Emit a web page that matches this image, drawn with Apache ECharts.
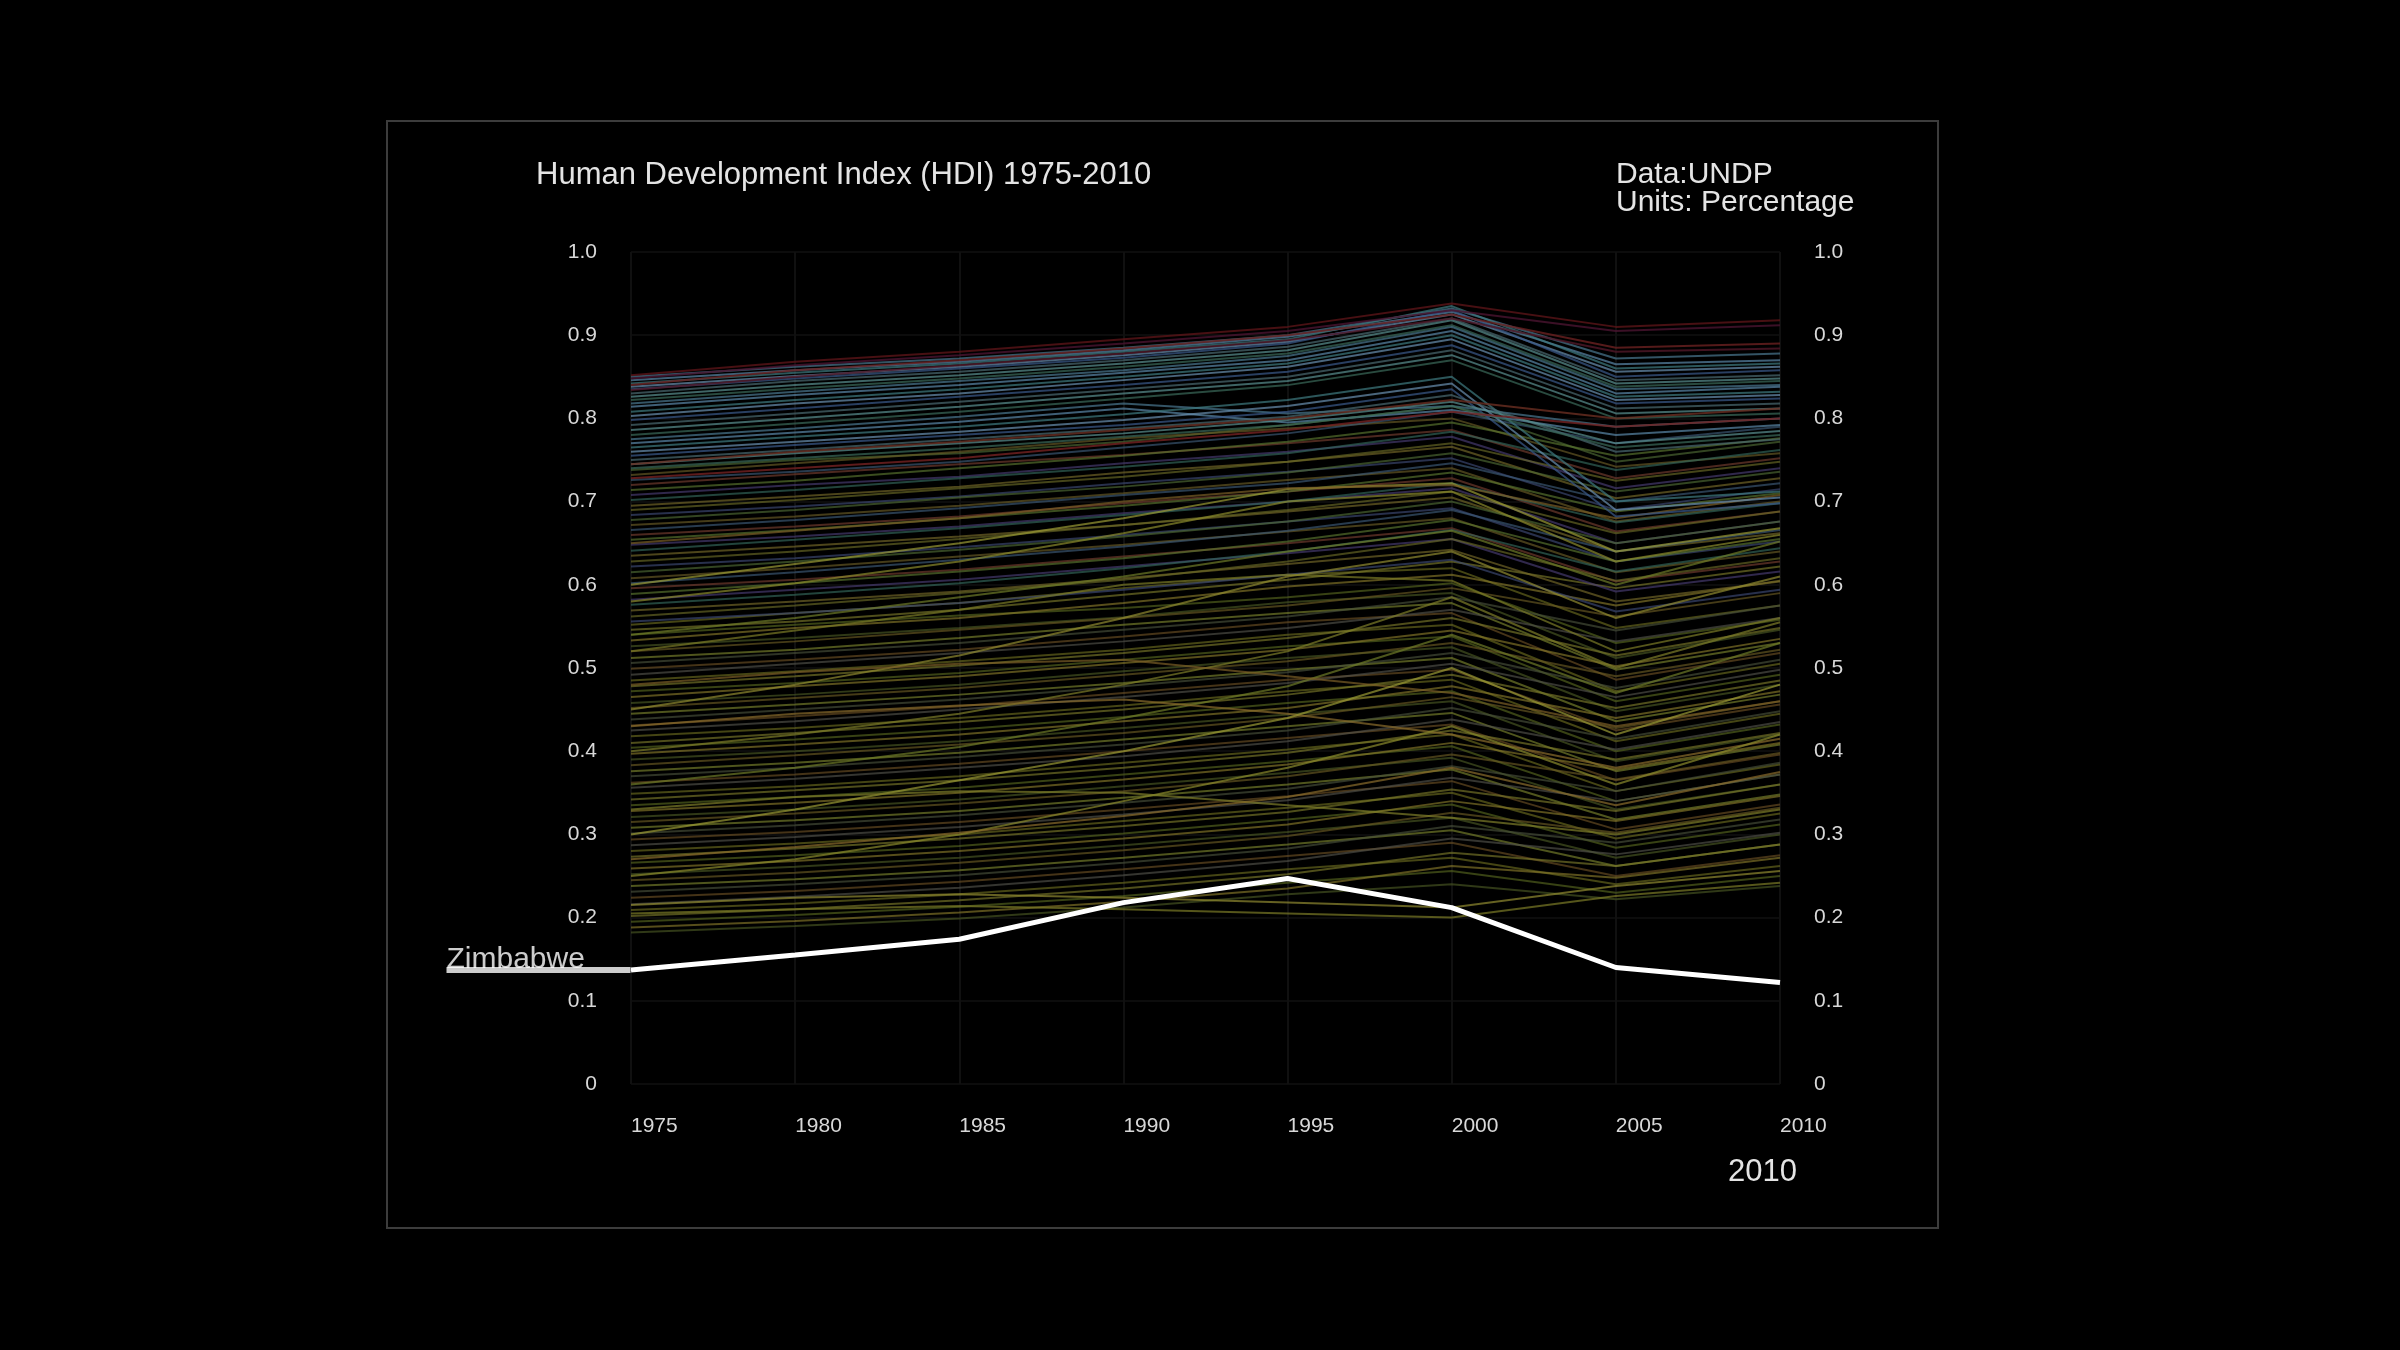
<!DOCTYPE html>
<html>
<head>
<meta charset="utf-8">
<script src="https://cdn.jsdelivr.net/npm/echarts@6/dist/echarts.min.js"></script>
<style>
html,body{margin:0;padding:0;background:#000;}
#chart{width:2400px;height:1350px;}
</style>
</head>
<body>
<div id="chart"></div>
<script>
const years = ['1975','1980','1985','1990','1995','2000','2005','2010'];

const zimbabwe = [0.137,0.155,0.174,0.218,0.247,0.212,0.140,0.122];

const hdiTopRed = [
  [0.852,0.868,0.880,0.895,0.910,0.938,0.910,0.918],
  [0.848,0.864,0.876,0.890,0.905,0.930,0.905,0.912],
  [0.840,0.858,0.870,0.884,0.900,0.925,0.885,0.890],
  [0.834,0.850,0.864,0.878,0.894,0.920,0.880,0.884],
  [0.745,0.760,0.772,0.786,0.800,0.822,0.800,0.812],
  [0.728,0.740,0.752,0.770,0.786,0.808,0.790,0.800]
];

const hdiHighBand = [
  [0.850,0.862,0.872,0.885,0.900,0.932,0.872,0.878],
  [0.846,0.858,0.868,0.882,0.898,0.928,0.865,0.870],
  [0.842,0.855,0.866,0.880,0.895,0.935,0.860,0.866],
  [0.838,0.851,0.862,0.876,0.892,0.925,0.856,0.862],
  [0.835,0.848,0.860,0.873,0.890,0.930,0.850,0.858],
  [0.830,0.845,0.856,0.870,0.886,0.920,0.846,0.852],
  [0.826,0.840,0.852,0.866,0.882,0.918,0.842,0.848],
  [0.822,0.836,0.848,0.862,0.878,0.912,0.838,0.845],
  [0.818,0.832,0.845,0.858,0.875,0.910,0.835,0.840],
  [0.814,0.828,0.840,0.855,0.870,0.905,0.830,0.838],
  [0.808,0.822,0.835,0.850,0.866,0.900,0.826,0.832],
  [0.803,0.818,0.830,0.846,0.862,0.895,0.822,0.828],
  [0.798,0.812,0.826,0.840,0.856,0.888,0.818,0.824],
  [0.792,0.806,0.820,0.835,0.850,0.882,0.812,0.818],
  [0.786,0.800,0.814,0.830,0.845,0.876,0.806,0.812],
  [0.780,0.794,0.808,0.824,0.840,0.870,0.800,0.806],
  [0.775,0.788,0.802,0.818,0.806,0.815,0.790,0.800],
  [0.770,0.783,0.796,0.812,0.795,0.810,0.780,0.792],
  [0.765,0.778,0.790,0.805,0.822,0.850,0.700,0.712],
  [0.760,0.772,0.784,0.798,0.815,0.842,0.690,0.705],
  [0.755,0.768,0.780,0.792,0.808,0.835,0.682,0.698],
  [0.750,0.762,0.775,0.788,0.802,0.828,0.760,0.775],
  [0.745,0.758,0.770,0.782,0.798,0.820,0.770,0.785],
  [0.740,0.752,0.764,0.778,0.792,0.815,0.765,0.780]
];

const hdiMiddle = [
  [0.738,0.750,0.758,0.772,0.792,0.815,0.748,0.772],
  [0.732,0.746,0.760,0.776,0.788,0.800,0.742,0.758],
  [0.726,0.736,0.748,0.765,0.782,0.808,0.770,0.790],
  [0.720,0.733,0.745,0.756,0.770,0.786,0.728,0.752],
  [0.714,0.725,0.740,0.755,0.772,0.795,0.755,0.776],
  [0.708,0.720,0.730,0.746,0.760,0.778,0.716,0.740],
  [0.702,0.714,0.728,0.742,0.758,0.784,0.738,0.762],
  [0.695,0.706,0.718,0.735,0.748,0.766,0.704,0.728],
  [0.690,0.702,0.716,0.730,0.748,0.770,0.725,0.748],
  [0.684,0.694,0.706,0.722,0.736,0.752,0.690,0.715],
  [0.678,0.690,0.705,0.718,0.735,0.758,0.712,0.736],
  [0.672,0.682,0.695,0.710,0.726,0.740,0.676,0.700],
  [0.666,0.678,0.692,0.708,0.722,0.746,0.700,0.722],
  [0.660,0.670,0.682,0.698,0.712,0.728,0.664,0.688],
  [0.654,0.666,0.680,0.695,0.712,0.735,0.688,0.710],
  [0.648,0.658,0.670,0.686,0.700,0.716,0.650,0.676],
  [0.641,0.654,0.668,0.684,0.700,0.722,0.675,0.698],
  [0.635,0.646,0.658,0.672,0.688,0.705,0.640,0.662],
  [0.628,0.640,0.655,0.672,0.690,0.712,0.662,0.688],
  [0.622,0.632,0.645,0.660,0.676,0.692,0.628,0.652],
  [0.615,0.628,0.642,0.658,0.676,0.700,0.650,0.676],
  [0.608,0.620,0.634,0.648,0.664,0.680,0.615,0.640],
  [0.602,0.615,0.630,0.646,0.665,0.690,0.640,0.666],
  [0.596,0.606,0.618,0.634,0.650,0.668,0.604,0.628],
  [0.589,0.602,0.616,0.632,0.652,0.678,0.628,0.655],
  [0.582,0.594,0.606,0.622,0.638,0.655,0.592,0.616],
  [0.576,0.588,0.602,0.620,0.640,0.666,0.616,0.644],
  [0.569,0.580,0.592,0.608,0.625,0.642,0.580,0.604],
  [0.562,0.575,0.590,0.606,0.628,0.655,0.605,0.632],
  [0.556,0.566,0.578,0.594,0.612,0.630,0.568,0.594]
];

const hdiCrossing = [
  [0.600,0.625,0.650,0.680,0.715,0.722,0.640,0.668],
  [0.580,0.602,0.628,0.662,0.700,0.712,0.628,0.660],
  [0.520,0.545,0.570,0.600,0.612,0.605,0.520,0.560],
  [0.450,0.480,0.515,0.560,0.610,0.640,0.560,0.610],
  [0.400,0.420,0.445,0.480,0.520,0.585,0.500,0.555],
  [0.360,0.380,0.405,0.440,0.478,0.540,0.470,0.530],
  [0.480,0.495,0.505,0.510,0.490,0.470,0.430,0.460],
  [0.430,0.445,0.455,0.462,0.445,0.420,0.380,0.415],
  [0.300,0.330,0.365,0.400,0.440,0.500,0.420,0.480],
  [0.250,0.270,0.300,0.340,0.380,0.430,0.360,0.420],
  [0.205,0.210,0.214,0.210,0.205,0.200,0.226,0.242],
  [0.215,0.224,0.228,0.224,0.218,0.212,0.238,0.256],
  [0.330,0.345,0.352,0.350,0.335,0.320,0.300,0.330],
  [0.540,0.560,0.585,0.610,0.640,0.665,0.600,0.652],
  [0.650,0.665,0.680,0.700,0.716,0.720,0.680,0.708],
  [0.270,0.285,0.302,0.322,0.345,0.380,0.335,0.375]
];

const hdiLower = [
  [0.552,0.566,0.578,0.596,0.612,0.620,0.548,0.575],
  [0.546,0.556,0.570,0.588,0.606,0.628,0.596,0.622],
  [0.540,0.552,0.563,0.572,0.585,0.602,0.530,0.558],
  [0.533,0.548,0.560,0.578,0.598,0.612,0.575,0.605],
  [0.526,0.536,0.548,0.561,0.579,0.590,0.512,0.546],
  [0.520,0.532,0.546,0.560,0.575,0.596,0.562,0.590],
  [0.512,0.522,0.536,0.552,0.566,0.578,0.498,0.530],
  [0.506,0.518,0.530,0.546,0.562,0.585,0.545,0.575],
  [0.499,0.510,0.522,0.538,0.555,0.566,0.486,0.518],
  [0.492,0.505,0.518,0.532,0.548,0.570,0.532,0.560],
  [0.485,0.496,0.508,0.522,0.540,0.552,0.472,0.505],
  [0.478,0.490,0.503,0.518,0.536,0.560,0.515,0.548],
  [0.472,0.482,0.494,0.510,0.526,0.538,0.460,0.492],
  [0.465,0.478,0.490,0.506,0.522,0.545,0.502,0.535],
  [0.458,0.468,0.480,0.496,0.512,0.525,0.448,0.480],
  [0.452,0.464,0.476,0.492,0.508,0.530,0.490,0.522],
  [0.445,0.456,0.468,0.482,0.498,0.512,0.436,0.468],
  [0.438,0.450,0.462,0.478,0.495,0.518,0.476,0.510],
  [0.431,0.442,0.454,0.470,0.486,0.498,0.425,0.456],
  [0.425,0.436,0.450,0.465,0.482,0.505,0.465,0.498],
  [0.418,0.428,0.440,0.455,0.472,0.486,0.412,0.445],
  [0.410,0.422,0.435,0.450,0.468,0.492,0.452,0.485],
  [0.404,0.414,0.426,0.441,0.458,0.472,0.400,0.432],
  [0.397,0.408,0.420,0.436,0.452,0.478,0.440,0.472],
  [0.390,0.400,0.412,0.428,0.444,0.460,0.388,0.420],
  [0.383,0.395,0.408,0.422,0.440,0.465,0.428,0.460],
  [0.376,0.386,0.398,0.414,0.430,0.446,0.376,0.408],
  [0.370,0.380,0.393,0.408,0.425,0.452,0.415,0.448],
  [0.362,0.372,0.385,0.400,0.416,0.432,0.365,0.396],
  [0.356,0.367,0.380,0.394,0.412,0.438,0.402,0.435],
  [0.349,0.358,0.370,0.386,0.402,0.420,0.352,0.384],
  [0.342,0.353,0.365,0.380,0.398,0.425,0.390,0.422],
  [0.335,0.345,0.356,0.372,0.388,0.406,0.340,0.372],
  [0.328,0.338,0.350,0.366,0.384,0.410,0.378,0.410],
  [0.321,0.330,0.342,0.358,0.374,0.392,0.330,0.360],
  [0.315,0.325,0.337,0.352,0.370,0.396,0.366,0.398],
  [0.308,0.317,0.328,0.344,0.360,0.378,0.318,0.348],
  [0.301,0.311,0.323,0.338,0.355,0.382,0.352,0.386],
  [0.294,0.303,0.315,0.330,0.346,0.364,0.306,0.336],
  [0.287,0.297,0.309,0.324,0.341,0.368,0.340,0.372],
  [0.280,0.289,0.300,0.316,0.332,0.350,0.295,0.325],
  [0.273,0.283,0.295,0.310,0.327,0.354,0.328,0.360],
  [0.266,0.275,0.286,0.301,0.318,0.336,0.284,0.312],
  [0.259,0.268,0.280,0.295,0.312,0.340,0.316,0.346],
  [0.252,0.261,0.272,0.287,0.303,0.320,0.272,0.300],
  [0.245,0.254,0.266,0.281,0.298,0.326,0.302,0.332],
  [0.238,0.246,0.257,0.272,0.288,0.305,0.262,0.288],
  [0.231,0.240,0.251,0.266,0.283,0.310,0.290,0.318],
  [0.224,0.232,0.243,0.258,0.274,0.290,0.250,0.275],
  [0.216,0.225,0.236,0.251,0.268,0.295,0.276,0.302],
  [0.209,0.217,0.228,0.242,0.258,0.272,0.240,0.262],
  [0.202,0.210,0.221,0.235,0.252,0.278,0.262,0.288],
  [0.195,0.203,0.213,0.226,0.242,0.256,0.230,0.250],
  [0.188,0.196,0.206,0.219,0.235,0.262,0.248,0.272],
  [0.182,0.190,0.199,0.212,0.228,0.240,0.222,0.238]
];

const FONT = '"Liberation Sans", Arial, sans-serif';
const palettes = {
  lower: ['#6a6a1e','#7a782a','#56661e','#86782a','#4a5824','#6a5a24','#7a822c','#48503a','#6a4e24','#52524a'],
  middle: ['#4e6a34','#6a5c26','#3e5a78','#743e30','#5a7630','#4a3e74','#34685c','#766a2a','#6a6a26','#3e4a74'],
  high: ['#4a7890','#5a88a8','#3e7a80','#6a90b0','#3a5a8a','#4a6a70','#5a9090','#3a6a5a'],
  red: ['#5a1418','#4a1430','#6a2020','#501828','#6a2e22','#742222'],
  cross: ['#9a9a34','#8a8a2c','#7a7a26','#908a30','#7e7e2a','#6e7a28','#7a5e26','#8a6c2c']
};

const series = [];
function addGroup(arr, pal, width, opacity) {
  arr.forEach((d, i) => {
    series.push({
      type: 'line', data: d, symbol: 'none', silent: true,
      lineStyle: { color: pal[i % pal.length], width: width, opacity: opacity },
      z: 2
    });
  });
}
addGroup(hdiLower, palettes.lower, 2, 0.65);
addGroup(hdiMiddle, palettes.middle, 2, 0.65);
addGroup(hdiCrossing, palettes.cross, 2, 0.7);
addGroup(hdiHighBand, palettes.high, 2, 0.7);
addGroup(hdiTopRed, palettes.red, 2, 0.8);

series.push({
  type: 'line', name: 'Zimbabwe', silent: true, z: 10, symbol: 'none',
  lineStyle: { color: '#ffffff', width: 5 },
  data: zimbabwe
});

series.push({
  type: 'scatter', name: 'Zimbabwe label', silent: true, z: 11, clip: false,
  symbolSize: 1, itemStyle: { color: '#ffffff' },
  data: [[years[0], zimbabwe[0]]],
  label: {
    show: true, position: 'left', distance: 0, offset: [0, -7],
    formatter: '{t|Zimbabwe}\n{u|}',
    rich: {
      t: { color: '#ffffff', fontSize: 30, fontFamily: FONT, lineHeight: 14, width: 184, align: 'left' },
      u: { backgroundColor: '#ffffff', height: 6, width: 184, align: 'left' }
    }
  }
});

const chart = echarts.init(document.getElementById('chart'), null, { renderer: 'canvas' });
chart.setOption({
  backgroundColor: '#000000',
  animation: false,
  title: [
    { text: 'Human Development Index (HDI) 1975-2010', left: 536, top: 160, padding: 0,
      textStyle: { color: '#e4e4e4', fontSize: 31, fontWeight: 'normal', fontFamily: FONT } },
    { text: 'Data:UNDP\nUnits: Percentage', left: 1616, top: 161, padding: 0,
      textStyle: { color: '#e4e4e4', fontSize: 30, fontWeight: 'normal', fontFamily: FONT, lineHeight: 28 } },
    { text: '2010', left: 1728, top: 1157, padding: 0,
      textStyle: { color: '#e4e4e4', fontSize: 31, fontWeight: 'normal', fontFamily: FONT } }
  ],
  graphic: [
    { type: 'rect', shape: { x: 387, y: 121, width: 1551, height: 1107 },
      style: { fill: 'none', stroke: '#3c3c3c', lineWidth: 2 }, silent: true }
  ],
  grid: { left: 631, right: 620, top: 252, bottom: 266 },
  xAxis: {
    type: 'category', data: years, boundaryGap: false,
    axisLine: { show: false }, axisTick: { show: false },
    axisLabel: { color: '#d8d8d8', fontSize: 21, fontFamily: FONT, align: 'left', margin: 32 },
    splitLine: { show: true, lineStyle: { color: '#101010', width: 2 } }
  },
  yAxis: [
    { type: 'value', min: 0, max: 1, interval: 0.1, position: 'left',
      axisLine: { show: false }, axisTick: { show: false },
      axisLabel: { color: '#d8d8d8', fontSize: 21, fontFamily: FONT, margin: 34,
        formatter: v => v === 0 ? '0' : v.toFixed(1) },
      splitLine: { show: true, lineStyle: { color: '#0c0c0c', width: 2 } } },
    { type: 'value', min: 0, max: 1, interval: 0.1, position: 'right',
      axisLine: { show: false }, axisTick: { show: false },
      axisLabel: { color: '#d8d8d8', fontSize: 21, fontFamily: FONT, margin: 34,
        formatter: v => v === 0 ? '0' : v.toFixed(1) },
      splitLine: { show: false } }
  ],
  series: series
});
</script>
</body>
</html>
